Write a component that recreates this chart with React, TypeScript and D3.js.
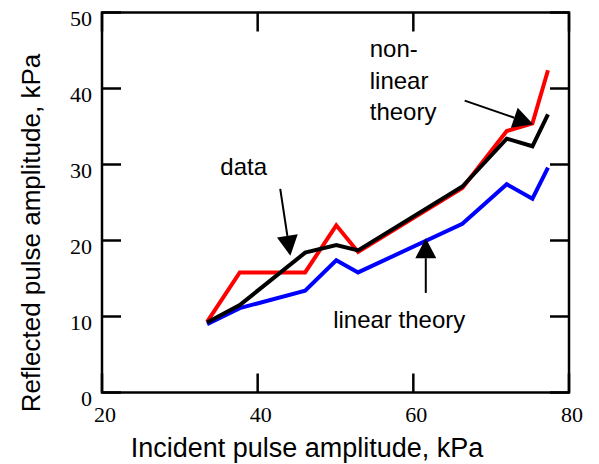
import React from 'react';
import * as d3 from 'd3';

const W = 599;
const H = 464;

// incident pulse amplitude (kPa)
const incident = [33.5, 37.7, 46.1, 50.1, 52.9, 66.3, 72.0, 75.3, 77.3];
// reflected pulse amplitude (kPa)
const nonlinearTheory = [9.3, 15.8, 15.8, 22.0, 18.5, 26.9, 34.4, 35.4, 42.4];
const measured = [9.2, 11.5, 18.4, 19.4, 18.7, 27.1, 33.4, 32.4, 36.6];
const linearTheory = [9.0, 11.1, 13.4, 17.4, 15.8, 22.2, 27.4, 25.5, 29.6];

const xTicks = [20, 40, 60, 80];
const yTicks = [0, 10, 20, 30, 40, 50];

const series = [
  { name: 'non-linear theory', values: nonlinearTheory, color: '#ff0000' },
  { name: 'linear theory', values: linearTheory, color: '#0000ff' },
  { name: 'data', values: measured, color: '#000000' },
];

// arrows, in data units: [fromX, fromY, tipX, tipY]
const arrows = [
  [42.9, 26.8, 44.2, 18.0],
  [66.6, 38.4, 75.4, 35.3],
  [61.6, 13.1, 61.6, 20.3],
];

const labels = [
  { lines: ['data'], x: 35.2, y: 28.6 },
  { lines: ['non-', 'linear', 'theory'], x: 54.4, y: 44.1 },
  { lines: ['linear theory'], x: 49.7, y: 8.5 },
];

const sans = 'Liberation Sans, Arial, sans-serif';
const serif = 'Liberation Serif, Times New Roman, serif';

export default function App() {
  const x = d3.scaleLinear().domain([20, 80]).range([102, 569]);
  const y = d3.scaleLinear().domain([0, 50]).range([392.5, 12.5]);
  const [x0, x1] = x.range();
  const [y0, y1] = y.range();
  const tick = 19;

  const line = d3.line<number>()
    .x((_, i) => x(incident[i]))
    .y(d => y(d));

  const arrowHead = (a: number[]) => {
    const fx = x(a[0]), fy = y(a[1]), tx = x(a[2]), ty = y(a[3]);
    const dx = tx - fx, dy = ty - fy;
    const len = Math.hypot(dx, dy);
    const ux = dx / len, uy = dy / len;
    const bx = tx - ux * 20, by = ty - uy * 20;
    const hw = 10.5;
    const pts = [[tx, ty], [bx - uy * hw, by + ux * hw], [bx + uy * hw, by - ux * hw]];
    return { line: [fx, fy, bx, by], pts: pts.map(p => p.join(',')).join(' ') };
  };

  return (
    <svg width={W} height={H} style={{ position: 'absolute', left: 0, top: 0, background: '#fff' }}>
      {/* frame */}
      <rect x={x0} y={y1} width={x1 - x0} height={y0 - y1} fill="none" stroke="#000" strokeWidth={2.5} />

      {/* inward ticks on all four sides */}
      {xTicks.map(t => (
        <g key={'xt' + t} stroke="#000" strokeWidth={2.5}>
          <line x1={x(t)} x2={x(t)} y1={y0} y2={y0 - tick} />
          <line x1={x(t)} x2={x(t)} y1={y1} y2={y1 + tick} />
        </g>
      ))}
      {yTicks.map(t => (
        <g key={'yt' + t} stroke="#000" strokeWidth={2.5}>
          <line x1={x0} x2={x0 + tick} y1={y(t)} y2={y(t)} />
          <line x1={x1} x2={x1 - tick} y1={y(t)} y2={y(t)} />
        </g>
      ))}

      {/* tick labels */}
      {xTicks.map(t => (
        <text key={'xl' + t} x={x(t) + 3} y={422} textAnchor="middle" fontFamily={serif} fontSize={22}>{t}</text>
      ))}
      {yTicks.map(t => (
        <text key={'yl' + t} x={92} y={y(t) + 13.5} textAnchor="end" fontFamily={serif} fontSize={22}>{t}</text>
      ))}

      {/* series */}
      {series.map(s => (
        <path key={s.name} d={line(s.values) || ''} fill="none" stroke={s.color} strokeWidth={4} strokeLinejoin="miter" />
      ))}

      {/* annotations */}
      {arrows.map((a, i) => {
        const h = arrowHead(a);
        return (
          <g key={'ar' + i}>
            <line x1={h.line[0]} y1={h.line[1]} x2={h.line[2]} y2={h.line[3]} stroke="#000" strokeWidth={2} />
            <polygon points={h.pts} fill="#000" />
          </g>
        );
      })}
      {labels.map((l, i) => (
        <text key={'lb' + i} x={x(l.x)} y={y(l.y)} fontFamily={sans} fontSize={24}>
          {l.lines.map((s, j) => (
            <tspan key={j} x={x(l.x)} dy={j === 0 ? 0 : 31.5}>{s}</tspan>
          ))}
        </text>
      ))}

      {/* axis titles */}
      <text x={307} y={457} textAnchor="middle" fontFamily={sans} fontSize={27}>
        Incident pulse amplitude, kPa
      </text>
      <text transform="translate(40,233) rotate(-90)" textAnchor="middle" fontFamily={sans} fontSize={26}>
        Reflected pulse amplitude, kPa
      </text>
    </svg>
  );
}
